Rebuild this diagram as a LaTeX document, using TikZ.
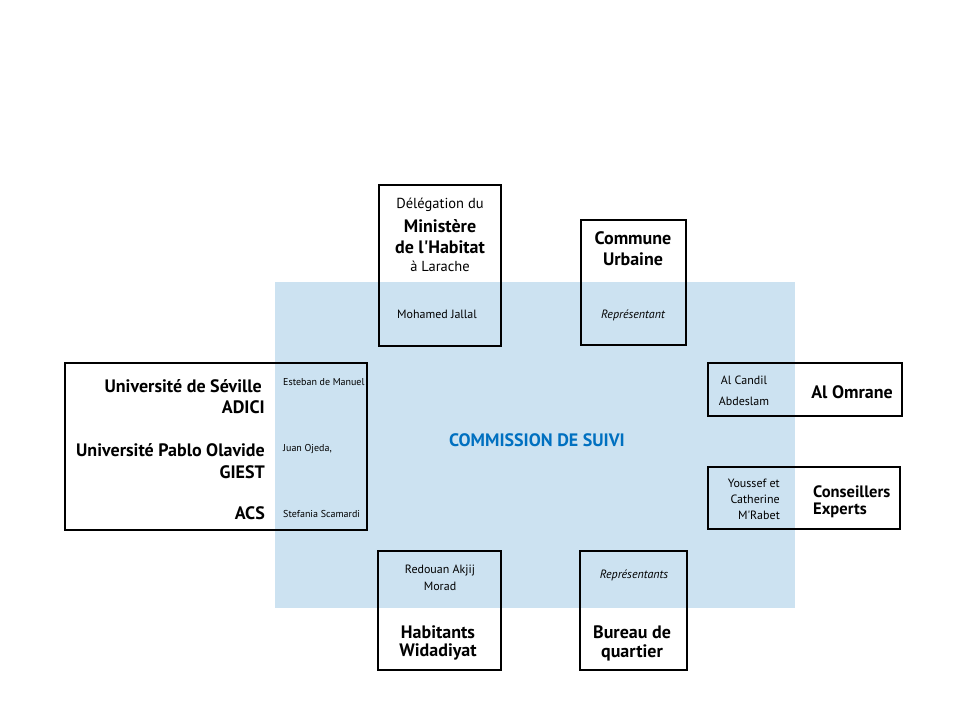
\documentclass[tikz,border=0pt]{standalone}
\usepackage{fontspec}
\newfontfamily\ptsans{PT Sans}
\usepackage{xcolor}
\usepackage{tikz}
\usetikzlibrary{positioning}
\definecolor{SuiviBlue}{RGB}{204,226,241}
\definecolor{TitreBlue}{RGB}{0,112,192}

\begin{document}
\begin{tikzpicture}[
        x=1pt, y=-1pt,
        % --- STYLE CHUNG ---
        cadre/.style={
            rectangle,
            draw=black,
            line width=1.4pt,
            inner sep=0pt
        },
        % Texte gras (institutions)
        gros/.style={
            font=\ptsans\fontsize{18}{20}\selectfont\bfseries,
            inner sep=0pt
        },
        % Texte gras plus serre
        grosserre/.style={
            font=\ptsans\fontsize{16.5}{18}\selectfont\bfseries,
            inner sep=0pt
        },
        % Texte moyen
        moyen/.style={
            font=\ptsans\fontsize{14.5}{16}\selectfont,
            inner sep=0pt
        },
        % Texte petit (noms)
        petit/.style={
            font=\ptsans\fontsize{12}{14}\selectfont,
            inner sep=0pt
        },
        % Texte tres petit (noms serres)
        mini/.style={
            font=\ptsans\fontsize{10}{12}\selectfont,
            inner sep=0pt
        },
        % Texte italique
        ital/.style={
            font=\ptsans\fontsize{12}{14}\selectfont\itshape,
            inner sep=0pt
        }
    ]

        % --- FOND ---
        \useasboundingbox[fill=white] (0,0) rectangle (960,720);
        \fill[SuiviBlue] (275,282) rectangle (795,608);

        % --- TITRE ---
        \node[font=\ptsans\fontsize{18}{20}\selectfont\bfseries, text=TitreBlue] (titre) at (537,440) {COMMISSION DE SUIVI};

        % --- CADRES ---
        \node[cadre, minimum width=302pt, minimum height=167pt] (univ) at (216,446.5) {};
        \node[cadre, minimum width=122pt, minimum height=161pt] (minis) at (440,265.5) {};
        \node[cadre, minimum width=105pt, minimum height=125pt] (commune) at (633.5,282.5) {};
        \node[cadre, minimum width=194pt, minimum height=53pt] (omrane) at (805,389.5) {};
        \node[cadre, minimum width=192pt, minimum height=62pt] (experts) at (804,498) {};
        \node[cadre, minimum width=123pt, minimum height=119pt] (habitants) at (439.5,610.5) {};
        \node[cadre, minimum width=107pt, minimum height=119pt] (bureau) at (633.5,610.5) {};

        % --- UNIVERSITES ---
        \node[gros, anchor=east] (seville) at (262,386) {Université de Séville};
        \node[gros, anchor=east] (adici) at (265,407) {ADICI};
        \node[gros, anchor=east] (olavide) at (265,450) {Université Pablo Olavide};
        \node[gros, anchor=east] (giest) at (265,472) {GIEST};
        \node[gros, anchor=east] (acs) at (265,513) {ACS};
        \node[mini, anchor=west] (esteban) at (283,382) {Esteban\ de Manuel};
        \node[mini, anchor=west] (juan) at (283,449) {Juan Ojeda,};
        \node[mini, anchor=west] (stefania) at (283,514) {Stefania Scamardi};

        % --- MINISTERE ---
        \node[moyen] (deleg) at (440,205) {Délégation du};
        \node[gros] (ministere) at (440,226) {Ministère};
        \node[gros] (habitat) at (440,247) {de l'Habitat};
        \node[moyen] (larache) at (440,266) {à Larache};
        \node[petit] (jallal) at (437,314) {Mohamed Jallal};

        % --- COMMUNE ---
        \node[gros] (comm) at (633,238) {Commune};
        \node[gros] (urb) at (633,259) {Urbaine};
        \node[ital] (repr) at (633,315) {Représentant};

        % --- AL OMRANE ---
        \node[petit] (candil) at (744,380) {Al Candil};
        \node[petit] (abdes) at (744,401) {Abdeslam};
        \node[gros] (omr) at (852,392) {Al Omrane};

        % --- CONSEILLERS ---
        \node[petit, anchor=east] (youssef) at (780,483) {Youssef et};
        \node[petit, anchor=east] (cath) at (780,499) {Catherine};
        \node[petit, anchor=east] (mrabet) at (780,515) {M'Rabet};
        \node[grosserre, anchor=west] (conseil) at (813,492) {Conseillers};
        \node[grosserre, anchor=west] (exp) at (813,510) {Experts};

        % --- HABITANTS ---
        \node[petit] (redouan) at (440,570) {Redouan Akjij};
        \node[petit] (morad) at (440,586) {Morad};
        \node[gros] (hab) at (438,632) {Habitants};
        \node[gros] (wida) at (438,652) {Widadiyat};

        % --- BUREAU ---
        \node[ital] (reprs) at (634,575) {Représentants};
        \node[gros] (bur) at (632,632) {Bureau de};
        \node[gros] (quart) at (632,653) {quartier};

    \end{tikzpicture}
\end{document}
